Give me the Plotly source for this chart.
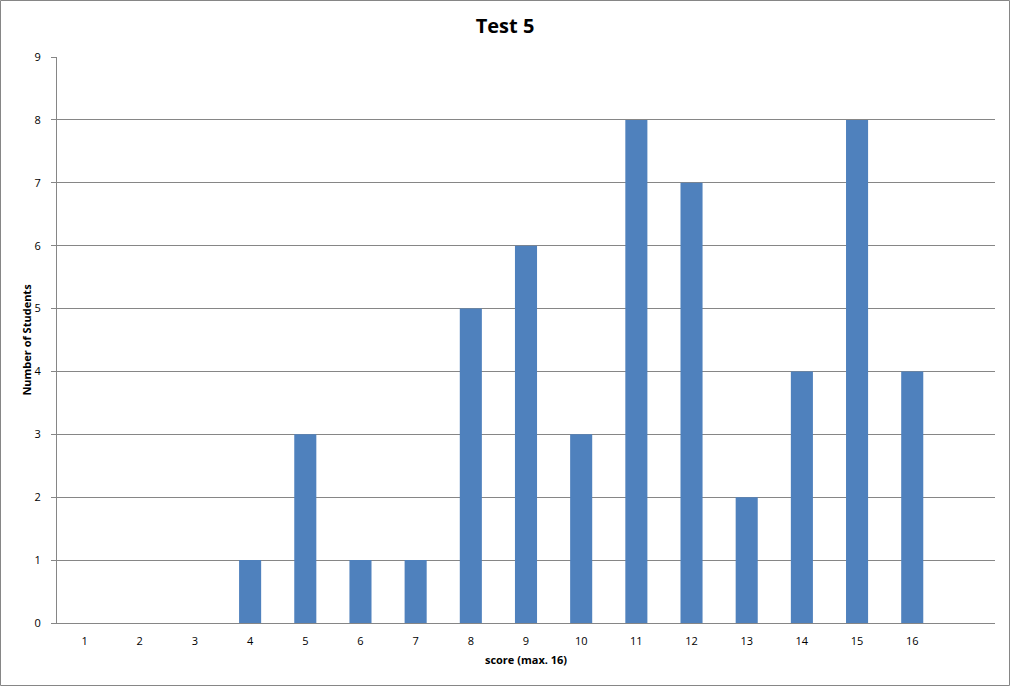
import plotly.graph_objects as go

scores = list(range(1, 18))
tick_labels = [str(i) for i in range(1, 17)] + [""]
counts = [0, 0, 0, 1, 3, 1, 1, 5, 6, 3, 8, 7, 2, 4, 8, 4, 0]

W, H = 1010, 686
L, R, T, B = 57, 15, 57, 63
pw, ph = W - L - R, H - T - B

fig = go.Figure(go.Bar(x=scores, y=counts, width=0.4, marker=dict(color="#4F81BD", line=dict(width=0))))

font = "Open Sans, Liberation Sans, sans-serif"
fig.update_layout(
    width=W, height=H,
    margin=dict(l=L, r=R, t=T, b=B),
    plot_bgcolor="white", paper_bgcolor="white",
    showlegend=False,
    title=dict(text="<b>Test 5</b>", x=0.5, xref="container", y=1 - 26 / H, yref="container",
               yanchor="middle", font=dict(family=font, size=20, color="black")),
    xaxis=dict(tickmode="array", tickvals=scores, ticktext=tick_labels, range=[0.5, 17.5],
               showgrid=False, showline=True, linecolor="#868686", linewidth=1, ticks="",
               ticklabelstandoff=8,
               tickfont=dict(family=font, size=11, color="black"),
               title=dict(text="<b>score (max. 16)</b>", font=dict(family=font, size=11, color="black"), standoff=9),
               zeroline=False),
    yaxis=dict(range=[0, 9], dtick=1, showgrid=True, gridcolor="#868686", gridwidth=1,
               showline=True, linecolor="#868686", linewidth=1, ticks="outside", ticklen=5,
               tickcolor="#868686", ticklabelstandoff=8, tickfont=dict(family=font, size=11, color="black"),
               title=dict(text="<b>Number of Students</b>", font=dict(family=font, size=11, color="black"), standoff=0),
               zeroline=False),
    shapes=[dict(type="rect", xref="paper", yref="paper",
                 x0=(-L + 0.5) / pw, x1=1 + (R - 0.5) / pw,
                 y0=(-B + 0.5) / ph, y1=1 + (T - 0.5) / ph,
                 line=dict(color="#868686", width=1), layer="above")],
)

fig.write_html("out.html", config={"displayModeBar": False},
               post_script="document.body.style.margin='0';document.body.style.padding='0';")
